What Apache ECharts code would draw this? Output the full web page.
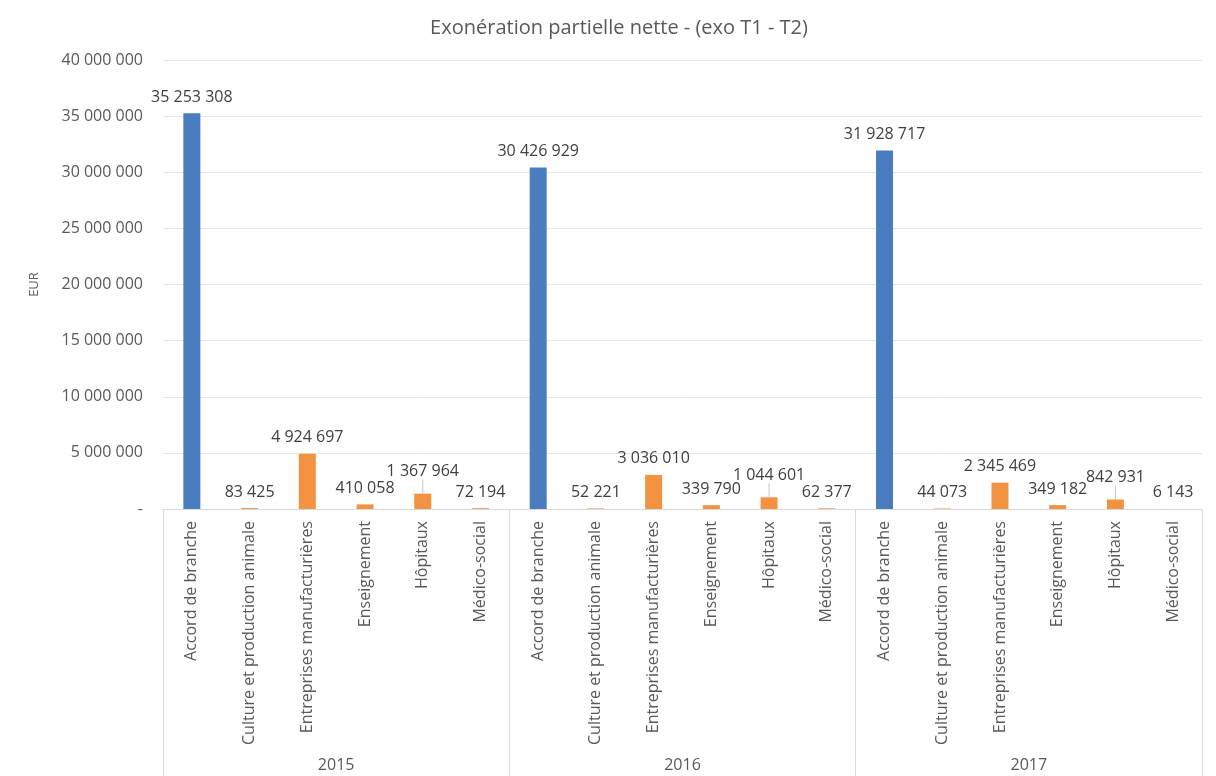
<!DOCTYPE html>
<html>
<head>
<meta charset="utf-8">
<script src="https://cdn.jsdelivr.net/npm/echarts@6/dist/echarts.min.js"></script>
<style>html,body{margin:0;padding:0;background:#fff}#c{width:1216px;height:776px}</style>
</head>
<body>
<div id="c"></div>
<script>
const years = ['2015', '2016', '2017'];
const sectors = ['Accord de branche', 'Culture et production animale', 'Entreprises manufacturières', 'Enseignement', 'Hôpitaux', 'Médico-social'];
const values2015 = [35253308, 83425, 4924697, 410058, 1367964, 72194];
const values2016 = [30426929, 52221, 3036010, 339790, 1044601, 62377];
const values2017 = [31928717, 44073, 2345469, 349182, 842931, 6143];
const yTicks = [0, 5000000, 10000000, 15000000, 20000000, 25000000, 30000000, 35000000, 40000000];

const categories = [];
years.forEach(y => sectors.forEach(s => categories.push(y + '|' + s)));
const values = [].concat(values2015, values2016, values2017);
const sectorOf = i => categories[i].split('|')[1];

const fmt = v => v === 0 ? '-' : String(Math.round(v)).replace(/\B(?=(\d{3})+(?!\d))/g, ' ');
const FONT = '"Open Sans", sans-serif';
const BLUE = '#4a7cc0', ORANGE = '#f39240';

const seriesData = values.map((v, i) => sectorOf(i) === 'Hôpitaux'
  ? { value: v, labelLine: { show: true, lineStyle: { color: '#c8c8c8', width: 1 } } }
  : v);

const chart = echarts.init(document.getElementById('c'));
chart.setOption({
  animation: false,
  textStyle: { fontFamily: FONT },
  title: {
    text: 'Exonération partielle nette - (exo T1 - T2)',
    left: 614, top: 13, textAlign: 'center',
    textStyle: { fontFamily: FONT, fontSize: 20, fontWeight: 'normal', color: '#595959' }
  },
  grid: { left: 163, right: 14, top: 60, bottom: 267 },
  xAxis: [
    {
      type: 'category', data: categories,
      axisLine: { lineStyle: { color: '#d9d9d9' } },
      axisTick: { show: false },
      axisLabel: {
        rotate: 90, interval: 0, margin: 12,
        fontFamily: FONT, fontSize: 16, color: '#595959',
        formatter: v => v.split('|')[1]
      }
    },
    {
      type: 'category', data: years, position: 'bottom',
      axisLine: { show: false },
      axisTick: { show: true, length: 267, lineStyle: { color: '#d9d9d9' } },
      axisLabel: { margin: 248, fontFamily: FONT, fontSize: 16, color: '#595959' }
    }
  ],
  yAxis: {
    type: 'value', min: 0, max: 40000000, interval: 5000000,
    name: 'EUR', nameLocation: 'middle', nameGap: 122, nameRotate: 90,
    nameTextStyle: { fontFamily: FONT, fontSize: 13, color: '#595959' },
    axisLine: { show: false }, axisTick: { show: false },
    axisLabel: { fontFamily: FONT, fontSize: 16, color: '#595959', margin: 20,
      formatter: v => yTicks.indexOf(v) >= 0 ? fmt(v) : '' },
    splitLine: { lineStyle: { color: '#e6e6e6' } }
  },
  series: [{
    type: 'bar', xAxisIndex: 0, data: seriesData, barWidth: 17,
    itemStyle: { color: p => sectorOf(p.dataIndex) === 'Accord de branche' ? BLUE : ORANGE },
    label: {
      show: true, position: 'top', distance: 8,
      fontFamily: FONT, fontSize: 16, color: '#404040',
      formatter: p => fmt(p.value)
    },
    labelLayout: p => sectorOf(p.dataIndex) === 'Hôpitaux' ? { dy: -6 } : {}
  }]
});
</script>
</body>
</html>
